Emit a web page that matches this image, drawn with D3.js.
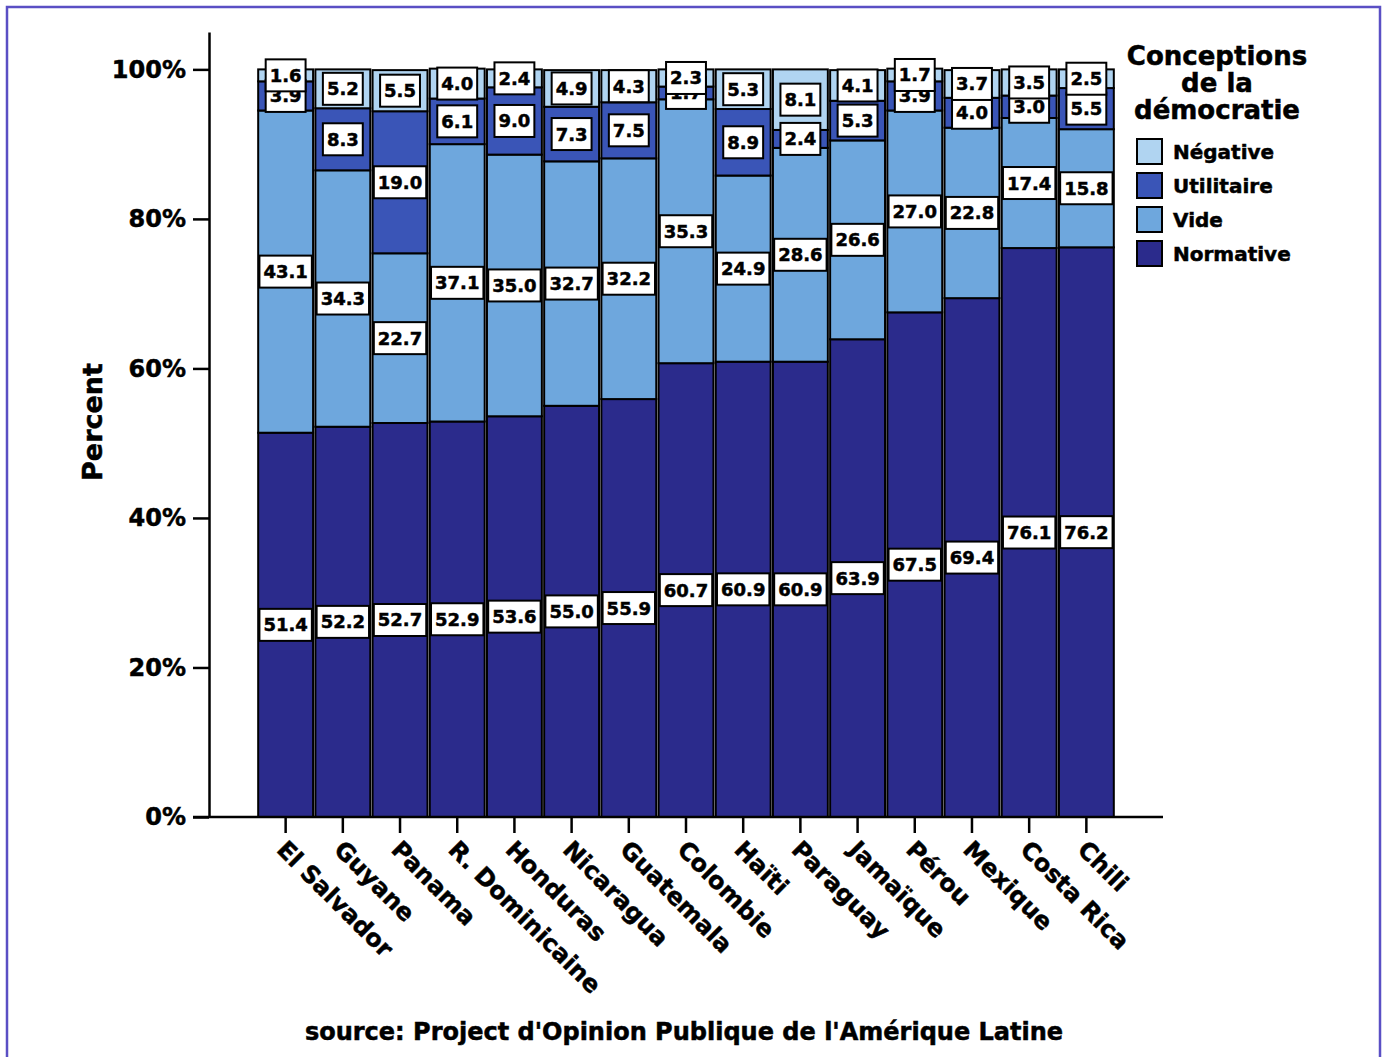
<!DOCTYPE html>
<html>
<head>
<meta charset="utf-8">
<script src="https://cdn.jsdelivr.net/npm/d3@7"></script>
<style>
  body { margin: 0; background: #fff; }
  text { font-family: "DejaVu Sans", sans-serif; font-weight: bold; fill: #000; stroke: #000; stroke-width: 0.5px; }
</style>
</head>
<body>
<div id="chart"></div>
<script>
(function(){
    var width = 1385, height = 1057;

    // data (percent)
    var countries = ["El Salvador","Guyane","Panama","R. Dominicaine","Honduras","Nicaragua","Guatemala",
                     "Colombie","Haïti","Paraguay","Jamaïque","Pérou","Mexique","Costa Rica","Chili"];
    var normative  = [51.4, 52.2, 52.7, 52.9, 53.6, 55.0, 55.9, 60.7, 60.9, 60.9, 63.9, 67.5, 69.4, 76.1, 76.2];
    var vide       = [43.1, 34.3, 22.7, 37.1, 35.0, 32.7, 32.2, 35.3, 24.9, 28.6, 26.6, 27.0, 22.8, 17.4, 15.8];
    var utilitaire = [3.9, 8.3, 19.0, 6.1, 9.0, 7.3, 7.5, 1.7, 8.9, 2.4, 5.3, 3.9, 4.0, 3.0, 5.5];
    var negative   = [1.6, 5.2, 5.5, 4.0, 2.4, 4.9, 4.3, 2.3, 5.3, 8.1, 4.1, 1.7, 3.7, 3.5, 2.5];
    var keys = ["Normative","Vide","Utilitaire","Négative"];
    var yTicks = [0, 20, 40, 60, 80, 100];

    var colors = {"Normative":"#2b2b8c","Vide":"#6ea7dd","Utilitaire":"#3a55b7","Négative":"#b0d4f1"};

    var rows = countries.map(function(c, i){
        return {country:c, "Normative":normative[i], "Vide":vide[i], "Utilitaire":utilitaire[i], "Négative":negative[i]};
    });
    var stacked = d3.stack().keys(keys)(rows);

    var svg = d3.select('#chart')
    .append("svg")
    .attr("width", width)
    .attr("height", height);

    // frame
    svg.append("rect")
    .attr("x", 7).attr("y", 7)
    .attr("width", 1373).attr("height", 1065)
    .attr("fill", "none")
    .attr("stroke", "#5a4fc4")
    .attr("stroke-width", 2.5);

    var x = d3.scaleBand().domain(countries).range([209, 1163]).paddingInner(0.04).paddingOuter(0.86);
    var y = d3.scaleLinear().domain([0, 105]).range([817, 32]);

    // bars
    var layers = svg.append("g").selectAll("g")
    .data(stacked)
    .enter().append("g")
    .attr("fill", function(d){ return colors[d.key]; });

    layers.selectAll("rect")
    .data(function(d){ return d; })
    .enter().append("rect")
    .attr("x", function(d){ return x(d.data.country); })
    .attr("width", x.bandwidth())
    .attr("y", function(d){ return y(d[1]); })
    .attr("height", function(d){ return y(d[0]) - y(d[1]); })
    .attr("stroke", "#000")
    .attr("stroke-width", 2);

    // value labels, drawn bottom to top so upper boxes sit on lower ones
    var labelG = svg.append("g");
    stacked.forEach(function(layer){
        layer.forEach(function(d){
            var cx = x(d.data.country) + x.bandwidth()/2;
            var cy = y((d[0] + d[1])/2);
            var g = labelG.append("g").attr("transform", "translate(" + cx + "," + cy + ")");
            var box = g.append("rect").attr("fill", "#fff").attr("stroke", "#000").attr("stroke-width", 2);
            var t = g.append("text")
            .attr("text-anchor", "middle")
            .attr("dy", "0.36em")
            .style("font-size", "18px")
            .text(d3.format(".1f")(d.data[layer.key]));
            var w = t.node().getComputedTextLength() + 8;
            box.attr("x", -w/2).attr("y", -16).attr("width", w).attr("height", 32);
        });
    });

    // y axis
    var yAxis = svg.append("g")
    .attr("transform", "translate(209,0)")
    .call(d3.axisLeft(y).tickValues(yTicks).tickFormat(function(d){ return d + "%"; })
        .tickSize(16).tickPadding(7).tickSizeOuter(0));
    yAxis.select(".domain").attr("stroke-width", 2.5);
    yAxis.selectAll(".tick line").attr("stroke-width", 2.5);
    yAxis.selectAll(".tick text").style("font-size", "24px").attr("font-family", null).attr("fill", null);

    // x axis
    var xAxis = svg.append("g")
    .attr("transform", "translate(0,817)")
    .call(d3.axisBottom(x).tickSize(16).tickSizeOuter(0));
    xAxis.select(".domain").remove();
    xAxis.append("line").attr("x1", 193).attr("x2", 1163).attr("stroke", "#000").attr("stroke-width", 2.5);
    xAxis.selectAll(".tick line").attr("stroke-width", 2.5);
    xAxis.selectAll(".tick text")
    .attr("font-family", null)
    .attr("fill", null)
    .style("font-size", "24px")
    .attr("text-anchor", "start")
    .attr("x", 0).attr("y", 0).attr("dy", "0.36em")
    .attr("transform", "translate(-4,28) rotate(45)");

    // y title
    svg.append("text")
    .attr("transform", "translate(102,422) rotate(-90)")
    .attr("text-anchor", "middle")
    .style("font-size", "27px")
    .text("Percent");

    // legend
    var legend = svg.append("g");
    ["Conceptions","de la","démocratie"].forEach(function(s, i){
        legend.append("text")
        .attr("x", 1217).attr("y", 65 + i*27)
        .attr("text-anchor", "middle")
        .style("font-size", "26px")
        .text(s);
    });
    keys.slice().reverse().forEach(function(k, i){
        legend.append("rect")
        .attr("x", 1137).attr("y", 139 + i*34)
        .attr("width", 25).attr("height", 25)
        .attr("fill", colors[k])
        .attr("stroke", "#000").attr("stroke-width", 2);
        legend.append("text")
        .attr("x", 1173).attr("y", 152 + i*34)
        .attr("dy", "0.36em")
        .style("font-size", "20px")
        .text(k);
    });

    // source
    svg.append("text")
    .attr("x", 684).attr("y", 1040)
    .attr("text-anchor", "middle")
    .style("font-size", "24px")
    .text("source: Project d'Opinion Publique de l'Amérique Latine");
})();
</script>
</body>
</html>
